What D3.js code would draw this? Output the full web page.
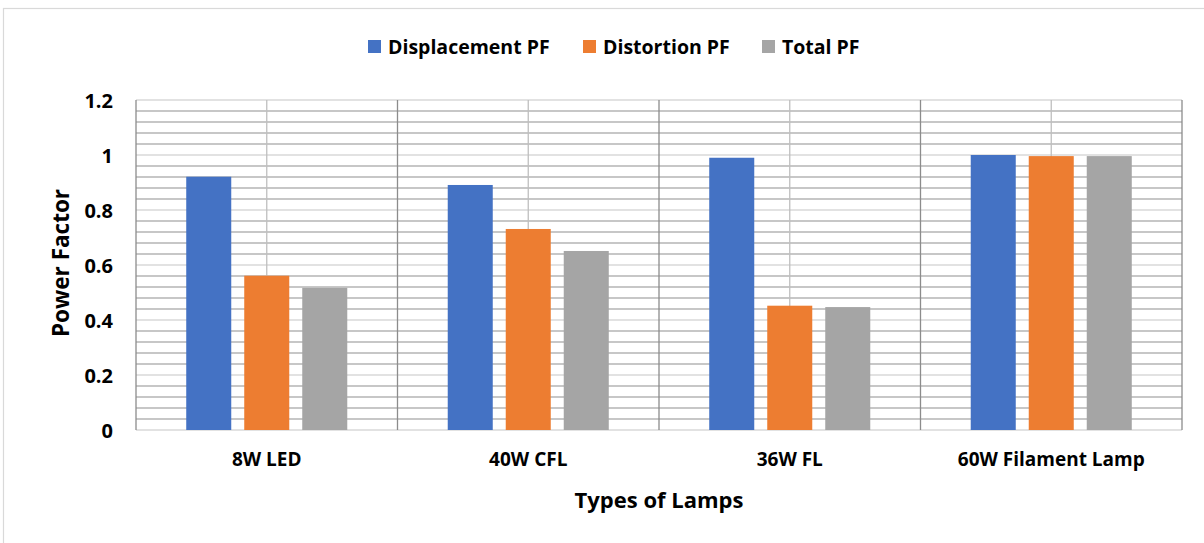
<!DOCTYPE html>
<html><head><meta charset="utf-8">
<script src="https://cdn.jsdelivr.net/npm/d3@7"></script>
<style>body{margin:0;background:#fff}svg{display:block}text{font-family:"Open Sans",Lato,sans-serif;font-weight:bold;fill:#000}</style>
</head><body><svg id="c" width="1204" height="543"></svg>
<script>
const categories = ["8W LED", "40W CFL", "36W FL", "60W Filament Lamp"];
const seriesNames = ["Displacement PF", "Distortion PF", "Total PF"];
const displacementPF = [0.921, 0.891, 0.990, 1.000];
const distortionPF = [0.561, 0.731, 0.452, 0.996];
const totalPF = [0.517, 0.651, 0.447, 0.996];
const yTicks = [0, 0.2, 0.4, 0.6, 0.8, 1, 1.2];
const colors = ["#4472c4", "#ed7d31", "#a5a5a5"];

const seriesValues = [displacementPF, distortionPF, totalPF];
const svg = d3.select("#c");
svg.append("rect").attr("x",3.5).attr("y",8.5).attr("width",1220).attr("height",560)
  .attr("fill","none").attr("stroke","#d9d9d9").attr("stroke-width",1.2);

const L=136, R=1182, T=100, B=430;
const x = d3.scaleBand().domain(categories).range([L,R]).padding(0);
const xi = d3.scaleBand().domain(seriesNames).range([0,x.bandwidth()]).paddingInner(0.224).paddingOuter(0.866);
const y = d3.scaleLinear().domain([0,1.2]).range([B,T]);

const g = svg.append("g");
const minor = d3.range(0,1.2001,0.04).filter(v=>Math.abs(v/0.2-Math.round(v/0.2))>0.01);
g.selectAll(".mn").data(minor).join("line").attr("x1",L).attr("x2",R)
  .attr("y1",d=>y(d)).attr("y2",d=>y(d)).attr("stroke","#b4b4b4").attr("stroke-width",1.3);
g.selectAll(".mj").data(yTicks).join("line").attr("x1",L).attr("x2",R)
  .attr("y1",d=>y(d)).attr("y2",d=>y(d)).attr("stroke","#d9d9d9").attr("stroke-width",1.3);
g.selectAll(".vc").data(categories).join("line").attr("x1",d=>x(d)+x.bandwidth()/2).attr("x2",d=>x(d)+x.bandwidth()/2)
  .attr("y1",T).attr("y2",B).attr("stroke","#bfbfbf").attr("stroke-width",1.3);
const bounds = categories.map(d=>x(d)).concat([R]);
g.selectAll(".vb").data(bounds).join("line").attr("x1",d=>d).attr("x2",d=>d)
  .attr("y1",T).attr("y2",B).attr("stroke","#8c8c8c").attr("stroke-width",1.3);

seriesNames.forEach((s,si)=>{
  svg.append("g").selectAll("rect").data(categories).join("rect")
    .attr("x",d=>x(d)+xi(s)).attr("width",xi.bandwidth())
    .attr("y",(d,i)=>y(seriesValues[si][i])).attr("height",(d,i)=>B-y(seriesValues[si][i]))
    .attr("fill",colors[si]);
});

const ya = svg.append("g").attr("transform",`translate(${L},0)`)
  .call(d3.axisLeft(y).tickValues(yTicks).tickSize(0).tickPadding(23).tickFormat(d=>d3.format("")(+d.toFixed(1))));
ya.select(".domain").remove();
ya.selectAll("text").style("font-size","20px").attr("dy","0.36em");

const xa = svg.append("g").attr("transform",`translate(0,${B})`).call(d3.axisBottom(x).tickSize(0).tickPadding(23));
xa.select(".domain").remove();
xa.selectAll("text").style("font-size","19px");

svg.append("text").attr("x",659).attr("y",508).attr("text-anchor","middle").style("font-size","22px").text("Types of Lamps");
svg.append("text").attr("transform","translate(69,263) rotate(-90)").attr("text-anchor","middle").style("font-size","22.5px").text("Power Factor");

const legX = [368, 583, 762];
const lg = svg.append("g");
seriesNames.forEach((s,i)=>{
  lg.append("rect").attr("x",legX[i]).attr("y",40).attr("width",13).attr("height",13).attr("fill",colors[i]);
  lg.append("text").attr("x",legX[i]+20).attr("y",54).style("font-size","19.5px").text(s);
});
</script></body></html>
